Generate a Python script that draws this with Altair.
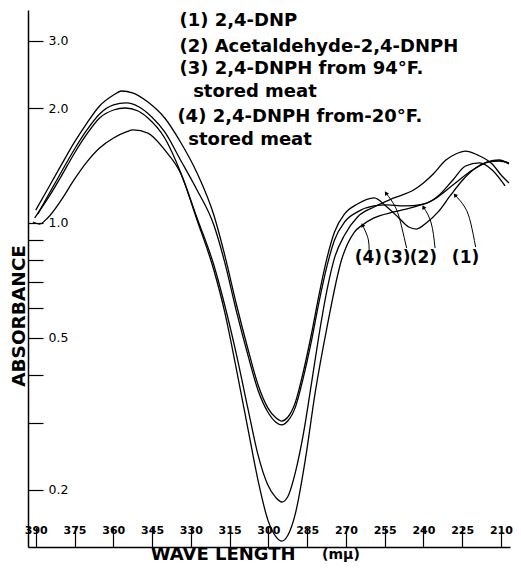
import altair as alt
import pandas as pd

# ---- curve data (wavelength in m-mu, absorbance) ----
wl_1 = [390, 384.7, 380.1, 375.2, 370.2, 365.3, 359.9, 356.9, 352.3, 346.6, 340.1, 334.0, 327.6, 321.1,
        316.9, 312.3, 307.8, 304.0, 300.2, 297.1, 294.8, 292.5, 289.5, 286.5, 283.4, 280.4, 277.3, 274.4,
        270.5, 265.5, 259.1, 254.1, 249.5, 245.7, 242.7, 238.9, 234.3, 229.7, 224.8, 219.8, 215.3, 210.7, 206.9]
abs_1 = [1.081, 1.250, 1.419, 1.620, 1.827, 2.025, 2.163, 2.216, 2.189, 2.074, 1.883, 1.629, 1.352, 1.049,
         0.825, 0.610, 0.465, 0.377, 0.328, 0.309, 0.303, 0.310, 0.340, 0.407, 0.509, 0.648, 0.810, 0.947,
         1.056, 1.121, 1.163, 1.101, 1.031, 0.976, 0.964, 1.000, 1.069, 1.177, 1.296, 1.393, 1.445, 1.462, 1.427]

wl_2 = [389.2, 384.7, 380.1, 375.2, 370.2, 365.3, 359.9, 355.0, 350.0, 345.1, 340.1, 334.0, 327.6, 321.1,
        316.9, 312.3, 307.8, 304.0, 300.2, 297.1, 294.8, 292.5, 289.5, 286.5, 283.4, 280.4, 277.3, 274.4,
        270.5, 265.5, 259.1, 254.1, 247.6, 240.0, 234.3, 228.6, 223.7, 218.3, 213.4, 208.4]
abs_2 = [1.056, 1.198, 1.360, 1.553, 1.752, 1.929, 2.037, 2.062, 2.012, 1.894, 1.731, 1.462, 1.220, 0.988,
         0.790, 0.585, 0.448, 0.365, 0.320, 0.301, 0.296, 0.303, 0.330, 0.393, 0.488, 0.621, 0.772, 0.903,
         1.006, 1.069, 1.108, 1.115, 1.108, 1.121, 1.177, 1.296, 1.410, 1.436, 1.376, 1.250]

wl_3 = [390.4, 384.7, 380.1, 375.2, 370.2, 365.3, 359.9, 355.4, 350.4, 346.6, 340.1, 334.0, 327.6, 321.1,
        316.9, 312.3, 307.8, 304.0, 300.2, 297.1, 294.8, 292.5, 289.5, 286.5, 283.4, 280.4, 277.3, 274.4,
        270.5, 265.5, 259.1, 251.4, 243.8, 240.0, 236.2, 231.3, 227.5, 223.7, 219.1, 213.4, 209.6, 206.9]
abs_3 = [1.031, 1.177, 1.327, 1.516, 1.710, 1.883, 1.976, 2.000, 1.964, 1.883, 1.669, 1.360, 1.031, 0.776,
         0.610, 0.451, 0.324, 0.247, 0.206, 0.191, 0.186, 0.192, 0.223, 0.279, 0.377, 0.509, 0.668, 0.810,
         0.930, 1.037, 1.101, 1.163, 1.220, 1.273, 1.344, 1.462, 1.516, 1.543, 1.507, 1.427, 1.327, 1.273]

wl_4 = [391.1, 388.5, 385.4, 380.1, 375.2, 370.2, 365.3, 359.9, 355.0, 352.3, 346.6, 340.1, 334.0, 327.6,
        321.1, 316.9, 312.3, 307.8, 304.0, 300.2, 297.1, 294.8, 292.5, 289.5, 285.7, 281.9, 277.3, 271.7,
        266.7, 263.6, 259.1, 251.4, 243.8, 236.2, 228.6, 221.0, 214.5, 210.7, 206.9]
abs_4 = [1.006, 0.994, 1.031, 1.149, 1.296, 1.445, 1.571, 1.669, 1.731, 1.752, 1.720, 1.553, 1.352, 1.018,
         0.753, 0.585, 0.412, 0.287, 0.212, 0.167, 0.151, 0.147, 0.152, 0.174, 0.240, 0.359, 0.534, 0.800,
         0.947, 0.988, 1.031, 1.069, 1.101, 1.149, 1.257, 1.376, 1.445, 1.453, 1.436]

# ---- axis ticks ----
x_ticks = [390, 375, 360, 345, 330, 315, 300, 285, 270, 255, 240, 225, 210]
y_ticks = [0.2, 0.3, 0.4, 0.5, 0.6, 0.7, 0.8, 0.9, 1.0, 2.0, 3.0]

# ---- curve labels and pointer arrows ----
tag_text = ["(4)", "(3)", "(2)", "(1)"]
tag_wl = [261.3, 250.3, 240.0, 223.7]
tag_abs = [0.810, 0.810, 0.810, 0.810]

arrow_wl = [[261.0, 261.3, 262.5, 263.6], [246.5, 248.4, 250.7, 254.5],
            [235.5, 237.0, 240.0], [219.8, 221.7, 224.0, 227.8]]
arrow_abs = [[0.850, 0.903, 0.953, 0.988], [0.860, 0.976, 1.095, 1.198],
             [0.860, 1.000, 1.101], [0.865, 1.000, 1.101, 1.184]]
head_angle = [334, 326, 333, 320]

# ---- legend block ----
legend_text = ["(1) 2,4-DNP", "(2) Acetaldehyde-2,4-DNPH", "(3) 2,4-DNPH from 94°F.",
               "stored meat", "(4) 2,4-DNPH from-20°F.", "stored meat"]
legend_wl = [334.4, 334.4, 334.4, 329.1, 335.2, 331.0]
legend_abs = [3.380, 2.888, 2.530, 2.203, 1.894, 1.649]

y_title = "ABSORBANCE"
x_title = "WAVE LENGTH"
x_unit = "(mμ)"

# ---- tables ----
rows = []
for name, wl, ab in [("1", wl_1, abs_1), ("2", wl_2, abs_2), ("3", wl_3, abs_3), ("4", wl_4, abs_4)]:
    for i, (w, a) in enumerate(zip(wl, ab)):
        rows.append({"curve": name, "idx": i, "wl": w, "abs": a})
curves = pd.DataFrame(rows)

arows, hrows = [], []
for k, (wl, ab) in enumerate(zip(arrow_wl, arrow_abs)):
    for i, (w, a) in enumerate(zip(wl, ab)):
        arows.append({"arrow": k, "idx": i, "wl": w, "abs": a})
    hrows.append({"wl": wl[-1], "abs": ab[-1], "ang": head_angle[k]})
arrows = pd.DataFrame(arows)
heads = pd.DataFrame(hrows)
tags = pd.DataFrame({"t": tag_text, "wl": tag_wl, "abs": tag_abs})
legend = pd.DataFrame({"t": legend_text, "wl": legend_wl, "abs": legend_abs})

W, H = 482, 537
FONT = "DejaVu Sans"

xscale = alt.Scale(domain=[206.5, 393.0], reverse=True, nice=False, zero=False)
yscale = alt.Scale(type="log", domain=[0.1418, 3.611], nice=False)

label_expr = "indexof([0.2, 0.5, 1, 2, 3], datum.value) >= 0 ? format(datum.value, '.1f') : ''"

X = alt.X("wl:Q")
Y = alt.Y("abs:Q")

base_line = alt.Chart(curves).mark_line(color="black", strokeWidth=1.3, interpolate="monotone").encode(
    x=alt.X("wl:Q", scale=xscale,
            axis=alt.Axis(orient="top", offset=-H, values=x_ticks, tickSize=20, labelPadding=-8,
                          tickColor="black", tickWidth=1.2, domainColor="black", domainWidth=1.5,
                          labelColor="black", labelFont=FONT, labelFontSize=11, labelFontWeight="bold",
                          labelFlush=False, labelOverlap=False, grid=False, title=None)),
    y=alt.Y("abs:Q", scale=yscale,
            axis=alt.Axis(orient="right", offset=-W, values=y_ticks, tickSize=15, labelPadding=5,
                          labelExpr=label_expr, tickColor="black", tickWidth=1.2, domainColor="black",
                          domainWidth=1.5, labelColor="black", labelFont=FONT, labelFontSize=12.5,
                          labelFlush=False, labelOverlap=False, grid=False, title=None)),
    detail="curve:N",
    order="idx:Q",
)

arrow_lines = alt.Chart(arrows).mark_line(color="black", strokeWidth=1.0, interpolate="natural").encode(
    x=X, y=Y, detail="arrow:N", order="idx:Q")

arrow_heads = alt.Chart(heads).mark_point(shape="triangle-up", filled=True, color="black", size=22,
                                          opacity=1).encode(
    x=X, y=Y, angle=alt.Angle("ang:Q", scale=None))

tag_marks = alt.Chart(tags).mark_text(font=FONT, fontSize=17, fontWeight="bold", color="black",
                                      align="center", baseline="middle").encode(
    x=X, y=Y, text="t:N")

legend_marks = alt.Chart(legend).mark_text(font=FONT, fontSize=18, fontWeight="bold", color="black",
                                           align="left", baseline="middle").encode(
    x=X, y=Y, text="t:N")

ytitle = alt.Chart(pd.DataFrame({"t": [y_title], "wl": [396.5], "abs": [0.571]})).mark_text(
    font=FONT, fontSize=18.5, fontWeight="bold", color="black", angle=270,
    align="center", baseline="middle").encode(
    x=X, y=Y, text="t:N")

xtitle = alt.Chart(pd.DataFrame({"t": [x_title], "wl": [345.5], "abs": [0.1348]})).mark_text(
    font=FONT, fontSize=18, fontWeight="bold", color="black",
    align="left", baseline="middle").encode(
    x=X, y=Y, text="t:N")

xunit = alt.Chart(pd.DataFrame({"t": [x_unit], "wl": [279.2], "abs": [0.1348]})).mark_text(
    font=FONT, fontSize=14, fontWeight="bold", color="black",
    align="left", baseline="middle").encode(
    x=X, y=Y, text="t:N")

chart = alt.layer(base_line, arrow_lines, arrow_heads, tag_marks, legend_marks, ytitle, xtitle, xunit).properties(
    width=W, height=H,
    autosize=alt.AutoSizeParams(type="none"),
    padding={"left": 20, "top": 2, "right": 3, "bottom": 17},
    background="white",
).configure_view(stroke=None)

chart.save("out.html", embed_options={"renderer": "svg", "actions": False})
